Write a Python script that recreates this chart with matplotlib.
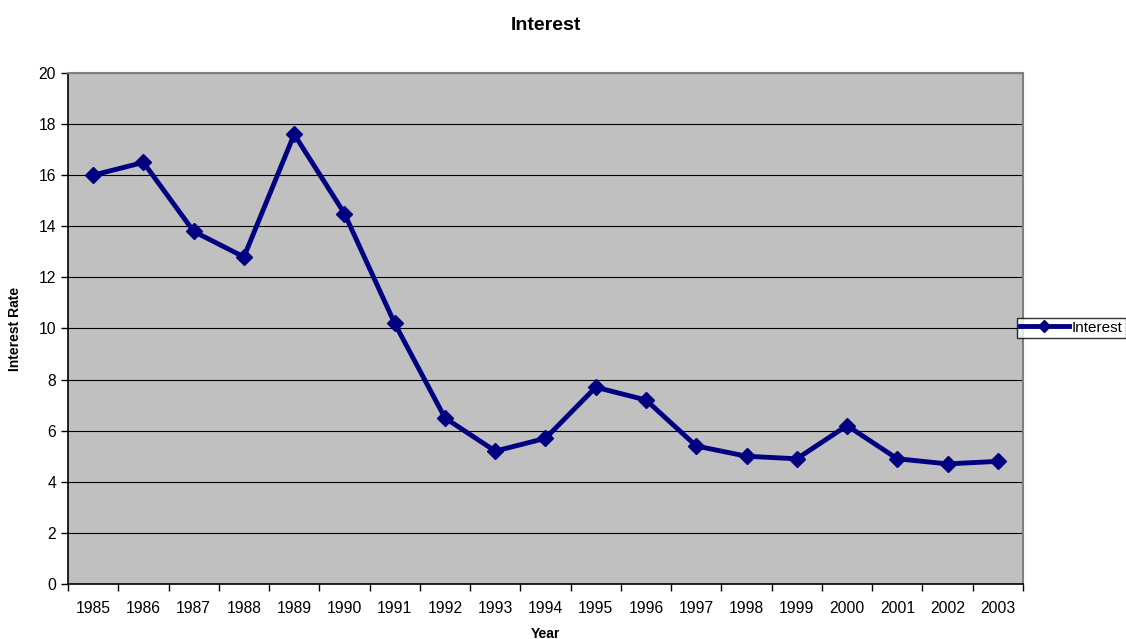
import numpy as np
import matplotlib.pyplot as plt

plt.rcParams['font.family'] = ['Liberation Sans', 'DejaVu Sans']

years = ['1985', '1986', '1987', '1988', '1989', '1990', '1991', '1992', '1993', '1994',
         '1995', '1996', '1997', '1998', '1999', '2000', '2001', '2002', '2003']
rates = [16.0, 16.5, 13.8, 12.8, 17.6, 14.5, 10.2, 6.5, 5.2, 5.7,
         7.7, 7.2, 5.4, 5.0, 4.9, 6.2, 4.9, 4.7, 4.8]

fig = plt.figure(figsize=(11.26, 6.39), dpi=100)
ax = fig.add_axes([0.0604, 0.0861, 0.8481, 0.7997])
ax.set_facecolor('#C0C0C0')

x = np.arange(len(years))
ax.plot(x, rates, color='#000080', linewidth=3.5, marker='D', markersize=8,
        label='Interest', zorder=3)

ax.set_xlim(-0.5, len(years) - 0.5)
ax.set_ylim(0, 20)
ax.set_yticks(np.arange(0, 21, 2))
ax.set_xticks(x)
ax.set_xticklabels(years)
ax.set_xticks(np.arange(-0.5, len(years), 1), minor=True)
ax.tick_params(axis='x', which='major', length=0, labelsize=11.3, pad=12)
ax.tick_params(axis='x', which='minor', length=5, width=1)
ax.tick_params(axis='y', length=5, width=1, labelsize=11.3)
ax.yaxis.grid(True, color='black', linewidth=0.8)
ax.set_axisbelow(True)

for s in ['left', 'bottom']:
    ax.spines[s].set_color('black')
    ax.spines[s].set_linewidth(1.2)
for s in ['top', 'right']:
    ax.spines[s].set_color('#808080')
    ax.spines[s].set_linewidth(1.5)

ax.set_title('Interest', fontsize=14, fontweight='bold', pad=31)
ax.set_xlabel('Year', fontsize=10, fontweight='bold', labelpad=8)
ax.set_ylabel('Interest Rate', fontsize=10, fontweight='bold', labelpad=12)

leg = fig.legend(loc='center left', bbox_to_anchor=(0.903, 0.487), fontsize=11,
                 frameon=True, fancybox=False, edgecolor='black', borderpad=0.2,
                 handlelength=3.2, handletextpad=0.2, borderaxespad=0,
                 markerscale=0.8)
leg.get_frame().set_linewidth(1)

fig.savefig('out.png', dpi=100)
